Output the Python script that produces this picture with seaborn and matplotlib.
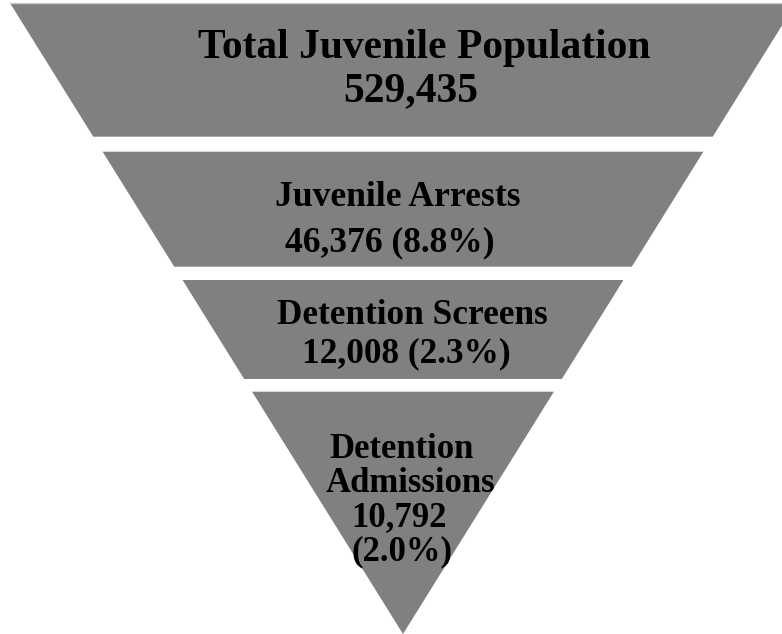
import matplotlib
matplotlib.use("Agg")
import matplotlib.pyplot as plt
import seaborn as sns

# Funnel stages and their counts (share of the total juvenile population)
stages = ["Total Juvenile Population", "Juvenile Arrests",
          "Detention Screens", "Detention Admissions"]
counts = [529435, 46376, 12008, 10792]
shares = [None, 8.8, 2.3, 2.0]

sns.set_theme(style="white")
plt.rcParams["font.family"] = ["Liberation Serif", "DejaVu Serif"]

fill = sns.color_palette(["#808080"])[0]

W, H = 782, 634
fig = plt.figure(figsize=(W / 100, H / 100), dpi=100)
ax = fig.add_axes([0, 0, 1, 1])
ax.set_xlim(0, W)
ax.set_ylim(H, 0)
ax.axis("off")

# Funnel geometry (pixel space): one inverted triangle cut into bands
apex_x, apex_y = 403, 634
slope = 393 / 631
bands = [(3, 136.7), (151.7, 266.7), (280, 379), (391.7, 634)]


def half_width(y):
    return (apex_y - y) * slope


for top, bottom in bands:
    xs = [apex_x - half_width(top), apex_x + half_width(top),
          apex_x + half_width(bottom), apex_x - half_width(bottom)]
    ys = [top, top, bottom, bottom]
    ax.fill(xs, ys, color=fill, lw=0)
ax.plot([apex_x - half_width(3), W], [3, 3], color="#c8c8c8", lw=1)


def stage_lines(i):
    name, n, p = stages[i], counts[i], shares[i]
    if i == 0:
        return [name, f"{n:,}"]
    if i == 3:
        return name.split() + [f"{n:,}", f"({p:.1f}%)"]
    return [name, f"{n:,} ({p:.1f}%)"]


# per-band: font size (pt), then (x centre, baseline) for each line
text_layout = [
    (29.9, [(424, 58), (411, 101)]),
    (25.6, [(397.5, 206), (390, 251)]),
    (25.4, [(412, 324), (406, 362)]),
    (25.0, [(402, 458), (410, 492), (399, 526), (402, 560)]),
]

for i, (size, spots) in enumerate(text_layout):
    for line, (x, y) in zip(stage_lines(i), spots):
        ax.text(x, y, line, ha="center", va="baseline", fontsize=size,
                fontweight="bold", color="black")

fig.savefig("out.png", dpi=100, facecolor="white")
